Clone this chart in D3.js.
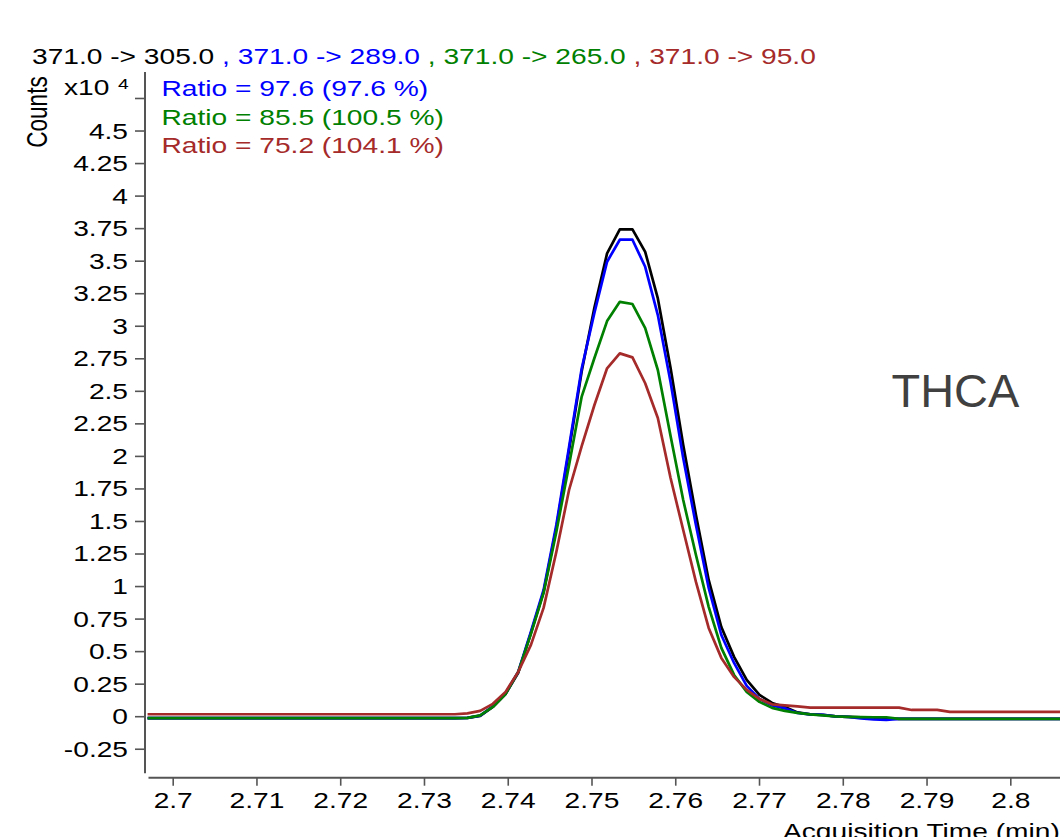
<!DOCTYPE html>
<html>
<head>
<meta charset="utf-8">
<script src="https://cdn.jsdelivr.net/npm/d3@7"></script>
<style>
  html, body { margin: 0; padding: 0; background: #fff; overflow: hidden; }
  svg { display: block; }
  text { font-family: "Liberation Sans", Arial, Helvetica, sans-serif; }
</style>
</head>
<body>
<svg id="chart" width="1060" height="837"></svg>
<script>
// ---- data (intensities in x10^4 counts) ----
const times = [2.697, 2.73368, 2.73519, 2.73671, 2.73822, 2.73974, 2.74125, 2.74277, 2.74428, 2.74580,
  2.74732, 2.74883, 2.75035, 2.75186, 2.75338, 2.75489, 2.75641, 2.75792, 2.75944, 2.76095,
  2.76247, 2.76399, 2.76550, 2.76702, 2.76853, 2.77005, 2.77156, 2.77308, 2.77459, 2.77611,
  2.77762, 2.77914, 2.78066, 2.78217, 2.78369, 2.78520, 2.78672, 2.78823, 2.78975, 2.79127,
  2.79278, 2.807];
const ion305 = [-0.015, -0.015, -0.013, 0.002, 0.071, 0.171, 0.333, 0.640, 0.955, 1.446,
  2.045, 2.650, 3.140, 3.556, 3.740, 3.740, 3.568, 3.210, 2.675, 2.084,
  1.546, 1.047, 0.685, 0.456, 0.279, 0.164, 0.102, 0.071, 0.029, 0.014,
  0.010, -0.002, -0.005, -0.009, -0.013, -0.017, -0.021, -0.021, -0.021, -0.021,
  -0.021, -0.021];
const ion289 = [-0.015, -0.015, -0.013, 0.004, 0.075, 0.175, 0.340, 0.650, 0.970, 1.469,
  2.068, 2.671, 3.100, 3.492, 3.661, 3.661, 3.453, 3.082, 2.568, 1.984,
  1.469, 0.985, 0.624, 0.409, 0.233, 0.133, 0.083, 0.060, 0.025, 0.014,
  0.010, -0.002, -0.005, -0.017, -0.025, -0.028, -0.021, -0.021, -0.021, -0.021,
  -0.021, -0.021];
const ion265 = [-0.015, -0.015, -0.013, 0.006, 0.071, 0.171, 0.340, 0.632, 0.947, 1.416,
  1.930, 2.456, 2.752, 3.036, 3.184, 3.167, 2.982, 2.660, 2.153, 1.661,
  1.239, 0.840, 0.525, 0.317, 0.187, 0.110, 0.064, 0.041, 0.025, 0.014,
  0.006, -0.002, -0.005, -0.007, -0.008, -0.008, -0.021, -0.021, -0.021, -0.021,
  -0.021, -0.021];
const ion95 = [0.015, 0.015, 0.022, 0.041, 0.095, 0.187, 0.340, 0.548, 0.832, 1.262,
  1.738, 2.076, 2.391, 2.673, 2.788, 2.757, 2.558, 2.291, 1.830, 1.431,
  1.032, 0.678, 0.448, 0.302, 0.202, 0.133, 0.091, 0.083, 0.075, 0.066,
  0.066, 0.066, 0.066, 0.066, 0.066, 0.066, 0.066, 0.048, 0.048, 0.048,
  0.033, 0.033];

const seriesNames = ["371.0 -> 305.0", "371.0 -> 289.0", "371.0 -> 265.0", "371.0 -> 95.0"];
const seriesColors = ["#000000", "#0000ff", "#008000", "#a52a2a"];
const ratioLabels = ["Ratio = 97.6 (97.6 %)", "Ratio = 85.5 (100.5 %)", "Ratio = 75.2 (104.1 %)"];
const compoundName = "THCA";
const xTicks = [2.7, 2.71, 2.72, 2.73, 2.74, 2.75, 2.76, 2.77, 2.78, 2.79, 2.8];
const xTickLabels = ["2.7", "2.71", "2.72", "2.73", "2.74", "2.75", "2.76", "2.77", "2.78", "2.79", "2.8"];
const yTicks = [-0.25, 0, 0.25, 0.5, 0.75, 1, 1.25, 1.5, 1.75, 2, 2.25, 2.5, 2.75, 3, 3.25, 3.5, 3.75, 4, 4.25, 4.5, 4.75];
const yTickLabels = ["-0.25", "0", "0.25", "0.5", "0.75", "1", "1.25", "1.5", "1.75", "2", "2.25", "2.5", "2.75", "3", "3.25", "3.5", "3.75", "4", "4.25", "4.5", ""];
const xTitle = "Acquisition Time (min)";
const yTitle = "Counts";

// ---- layout ----
const SX = 1.28;             // horizontal glyph stretch seen in the reference
const axisX = 145, axisY = 777.7;
const svg = d3.select("#chart");

const x = d3.scaleLinear().domain([2.7, 2.8]).range([172.7, 1010.3]);
const y = d3.scaleLinear().domain([0, 4]).range([716.2, 195.6]);

// clip
svg.append("defs").append("clipPath").attr("id", "plotclip")
  .append("rect").attr("x", 147).attr("y", 60).attr("width", 920).attr("height", 714);

// axes lines
const axisColor = "#555";
svg.append("line").attr("x1", axisX).attr("x2", axisX).attr("y1", 72).attr("y2", 773.3)
  .attr("stroke", axisColor).attr("stroke-width", 2);
svg.append("line").attr("x1", 148.5).attr("x2", 1060).attr("y1", axisY).attr("y2", axisY)
  .attr("stroke", axisColor).attr("stroke-width", 2);

// y axis
const yAxis = d3.axisLeft(y).tickValues(yTicks).tickSize(10).tickSizeOuter(0)
  .tickFormat((d, i) => yTickLabels[i]);
const gy = svg.append("g").attr("transform", `translate(${axisX},0)`).call(yAxis);
gy.select(".domain").remove();
gy.selectAll(".tick line").attr("stroke", axisColor).attr("stroke-width", 1.6);
gy.selectAll(".tick text")
  .attr("x", -17 / SX).attr("dy", "0.34em")
  .attr("transform", `scale(${SX},1)`)
  .attr("fill", "#000").style("font-size", "22px");

// x axis
const xAxis = d3.axisBottom(x).tickValues(xTicks).tickSize(8).tickSizeOuter(0)
  .tickFormat((d, i) => xTickLabels[i]);
const gx = svg.append("g").attr("transform", `translate(0,${axisY})`).call(xAxis);
gx.select(".domain").remove();
gx.selectAll(".tick line").attr("stroke", axisColor).attr("stroke-width", 1.6);
gx.selectAll(".tick text")
  .attr("y", 30.5).attr("dy", "0")
  .attr("transform", `scale(${SX},1)`)
  .attr("fill", "#000").style("font-size", "22px");

// series lines
const allSeries = [ion305, ion289, ion265, ion95];
const line = d3.line().x((d, i) => x(times[i])).y(d => y(d));
const gLines = svg.append("g").attr("clip-path", "url(#plotclip)");
allSeries.forEach((vals, k) => {
  gLines.append("path").datum(vals)
    .attr("d", line)
    .attr("fill", "none")
    .attr("stroke", seriesColors[k])
    .attr("stroke-width", 2.7)
    .attr("stroke-linejoin", "round");
});

// title with coloured tspans
const title = svg.append("text")
  .attr("transform", `translate(32,64) scale(${SX},1)`)
  .style("font-size", "22px");
seriesNames.forEach((name, k) => {
  if (k > 0) title.append("tspan").attr("fill", seriesColors[k]).text(" , ");
  title.append("tspan").attr("fill", seriesColors[k]).text(name);
});

// y title
svg.append("text")
  .attr("transform", `translate(46.5,112) scale(${SX},1) rotate(-90)`)
  .attr("text-anchor", "middle")
  .attr("fill", "#000")
  .style("font-size", "22.5px")
  .text(yTitle);

// x10^4 multiplier
const mult = svg.append("text")
  .attr("transform", `translate(64,95) scale(${SX},1)`)
  .attr("fill", "#000").style("font-size", "22px");
mult.append("tspan").text("x10");
svg.append("text")
  .attr("transform", `translate(118,89) scale(${SX},1)`)
  .attr("fill", "#000").style("font-size", "15px").text("4");

// ratio labels
const ratioY = [95.5, 124.5, 152.5];
ratioLabels.forEach((t, k) => {
  svg.append("text")
    .attr("transform", `translate(161.5,${ratioY[k]}) scale(${SX},1)`)
    .attr("fill", seriesColors[k + 1])
    .style("font-size", "22px")
    .text(t);
});

// compound label
svg.append("text")
  .attr("transform", `translate(891.5,406.5) scale(1.02,1)`)
  .attr("fill", "#404040")
  .style("font-size", "46px")
  .text(compoundName);

// x title (cut off at bottom edge as in reference)
svg.append("text")
  .attr("transform", `translate(783,839) scale(${SX},1)`)
  .attr("fill", "#000")
  .style("font-size", "22px")
  .text(xTitle);
</script>
</body>
</html>
